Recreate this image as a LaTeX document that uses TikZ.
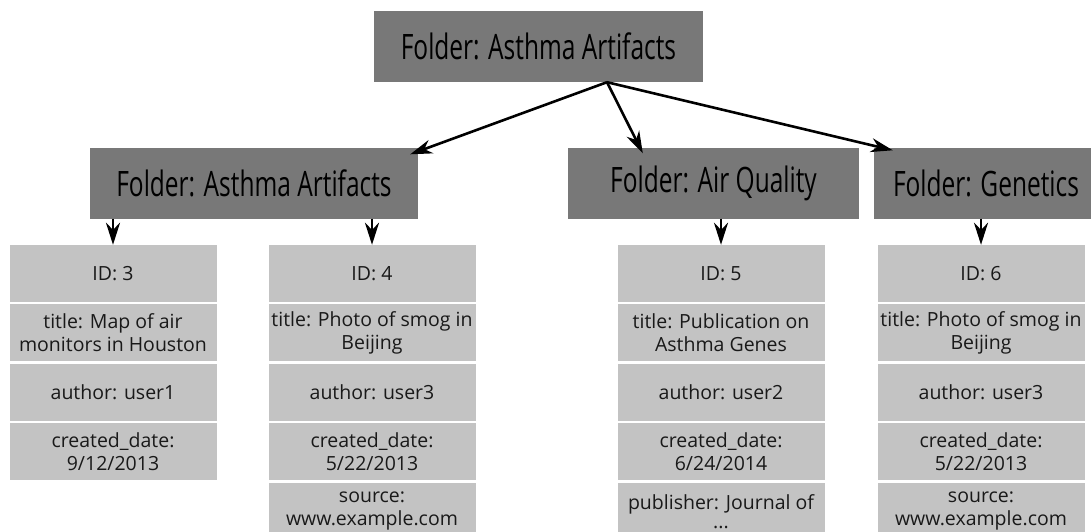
\documentclass[tikz,border=0pt]{standalone}
\usepackage{fontspec}
\setmainfont{Open Sans}
\newfontfamily\foldfont[FakeStretch=0.70]{Open Sans}
\usetikzlibrary{positioning,arrows.meta}

\definecolor{foldgray}{HTML}{787878}
\definecolor{cellgray}{HTML}{C3C3C3}

\tikzset{
    folder/.style={fill=foldgray, minimum height=71pt, inner sep=0pt,
        font=\foldfont\fontsize{35}{40}\selectfont},
    cell/.style={fill=cellgray, minimum width=207pt, minimum height=57pt,
        inner sep=0pt, align=center, text=black!90,
        font=\fontsize{19.5}{23}\selectfont},
    link/.style={-{Stealth[length=22pt,width=14pt,inset=7pt]}, line width=2.6pt}
}

\begin{document}
\begin{tikzpicture}[x=1pt, y=-1pt]
    \useasboundingbox (0,0) rectangle (1091,532);
    \clip (0,0) rectangle (1091,532);
    % folders
    \node[folder, minimum width=329pt] (root) at (538.5,46.5) {Folder: Asthma Artifacts};
    \node[folder, minimum width=328pt] (asthma) at (254,183) {Folder: Asthma Artifacts};
    \node[folder, minimum width=291pt] (air) at (713.5,183) {Folder: Air Quality};
    \node[folder, minimum width=224pt] (genetics) at (986,183) {Folder: Genetics};
    % items, one column each
    \node[cell] (id3) at (113,273.5) {ID: 3};
    \node[cell, below=2pt of id3] (title3) {title: Map of air\\monitors in Houston};
    \node[cell, below=2pt of title3] (author3) {author: user1};
    \node[cell, below=2pt of author3] (date3) {created\_date:\\9/12/2013};

    \node[cell] (id4) at (372,273.5) {ID: 4};
    \node[cell, below=2pt of id4] (title4) {title: Photo of smog in\\Beijing};
    \node[cell, below=2pt of title4] (author4) {author: user3};
    \node[cell, below=2pt of author4] (date4) {created\_date:\\5/22/2013};
    \node[cell, below=2pt of date4] (source4) {source:\\www.example.com};

    \node[cell] (id5) at (721,273.5) {ID: 5};
    \node[cell, below=2pt of id5] (title5) {title: Publication on\\Asthma Genes};
    \node[cell, below=2pt of title5] (author5) {author: user2};
    \node[cell, below=2pt of author5] (date5) {created\_date:\\6/24/2014};
    \node[cell, below=2pt of date5, text depth=0pt] (pub5) {publisher: Journal of\\[-4pt]...};

    \node[cell] (id6) at (981,273.5) {ID: 6};
    \node[cell, below=2pt of id6] (title6) {title: Photo of smog in\\Beijing};
    \node[cell, below=2pt of title6] (author6) {author: user3};
    \node[cell, below=2pt of author6] (date6) {created\_date:\\5/22/2013};
    \node[cell, below=2pt of date6] (source6) {source:\\www.example.com};
    % arrows from the root folder
    \coordinate (fork) at ([xshift=68.5pt]root.south);
    \draw[link] (fork) -- ([xshift=-8pt,yshift=-7pt]asthma.north east);
    \draw[link] (fork) -- ([xshift=75pt,yshift=-6pt]air.north west);
    \draw[link] (fork) -- ([xshift=19pt,yshift=-3pt]genetics.north west);
    % arrows down to the items
    \draw[link] (id3.north |- asthma.south) -- (id3.north);
    \draw[link] (id4.north |- asthma.south) -- (id4.north);
    \draw[link] (id5.north |- air.south) -- (id5.north);
    \draw[link] (id6.north |- genetics.south) -- (id6.north);
\end{tikzpicture}
\end{document}
